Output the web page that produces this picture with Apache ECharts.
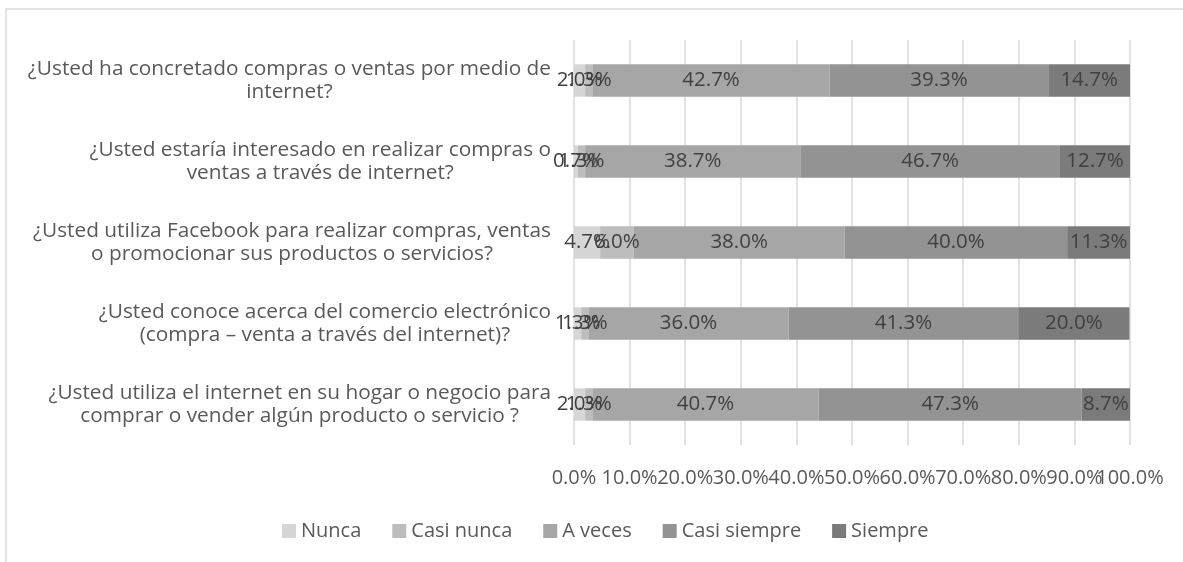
<!DOCTYPE html>
<html>
<head>
<meta charset="utf-8">
<script src="https://cdn.jsdelivr.net/npm/echarts@6/dist/echarts.min.js"></script>
<style>
  html, body { margin: 0; padding: 0; background: #fff; }
  #chart-container { width: 1183px; height: 562px; }
</style>
</head>
<body>
<div id="chart-container"></div>
<script>
// categories listed bottom to top (echarts category axis starts at the bottom)
const categories = [
    '¿Usted utiliza el internet en su hogar o negocio para\ncomprar o vender algún producto o servicio ?',
    '¿Usted conoce acerca del comercio electrónico\n(compra – venta a través del internet)?',
    '¿Usted utiliza Facebook para realizar compras, ventas\no promocionar sus productos o servicios?',
    '¿Usted estaría interesado en realizar compras o\nventas a través de internet?',
    '¿Usted ha concretado compras o ventas por medio de\ninternet?'
];

const seriesNames = ['Nunca', 'Casi nunca', 'A veces', 'Casi siempre', 'Siempre'];

const nunca = [2.0, 1.3, 4.7, 0.7, 2.0];
const casiNunca = [1.3, 1.3, 6.0, 1.3, 1.3];
const aVeces = [40.7, 36.0, 38.0, 38.7, 42.7];
const casiSiempre = [47.3, 41.3, 40.0, 46.7, 39.3];
const siempre = [8.7, 20.0, 11.3, 12.7, 14.7];

const colors = ['#d6d6d6', '#bdbdbd', '#a6a6a6', '#939393', '#7b7b7b'];
const FONT = 'Open Sans';

function makeSeries(name, data, i) {
    return {
        name: name,
        type: 'bar',
        stack: 'total',
        barWidth: '40%',
        data: data,
        itemStyle: {color: colors[i]},
        label: {
            show: true,
            position: 'inside',
            formatter: p => p.value.toFixed(1) + '%',
            color: '#404040',
            fontFamily: FONT,
            fontSize: 20.5
        }
    };
}

// the tick labels overlap each other like in the original; split them over two
// axes so echarts does not drop any of them
function tickLabel(show) {
    return {
        color: '#595959',
        fontFamily: FONT,
        fontSize: 20,
        margin: 23,
        showMinLabel: true,
        showMaxLabel: true,
        formatter: v => show(v) ? v.toFixed(1) + '%' : ''
    };
}

const chartDom = document.getElementById('chart-container');
const myChart = echarts.init(chartDom);

const option = {
    animation: false,
    graphic: [{
        type: 'rect',
        shape: {x: 6, y: 9, width: 1200, height: 600},
        style: {fill: 'none', stroke: '#d9d9d9', lineWidth: 1.5},
        silent: true
    }],
    grid: {left: 574, right: 53, top: 40, bottom: 117, containLabel: false},
    legend: {
        top: 516,
        left: 277,
        itemWidth: 14,
        itemHeight: 14,
        itemGap: 31,
        icon: 'rect',
        textStyle: {color: '#595959', fontFamily: FONT, fontSize: 20},
        data: seriesNames
    },
    xAxis: [{
        type: 'value',
        position: 'bottom',
        min: 0,
        max: 100,
        interval: 10,
        axisLine: {show: false},
        axisTick: {show: false},
        splitLine: {lineStyle: {color: '#d9d9d9', width: 1.5}},
        axisLabel: tickLabel(v => Math.round(v) % 20 === 10)
    }, {
        type: 'value',
        position: 'bottom',
        offset: 0,
        min: 0,
        max: 100,
        interval: 20,
        axisLine: {show: false},
        axisTick: {show: false},
        splitLine: {show: false},
        axisLabel: tickLabel(v => true)
    }],
    yAxis: {
        type: 'category',
        data: categories,
        axisLine: {show: false},
        axisTick: {show: false},
        axisLabel: {
            margin: 23,
            formatter: v => v.split('\n').map(l => '{c|' + l + '}').join('\n'),
            rich: {
                c: {align: 'center', color: '#595959', fontFamily: FONT, fontSize: 20.8, lineHeight: 23}
            }
        }
    },
    series: [
        makeSeries(seriesNames[0], nunca, 0),
        makeSeries(seriesNames[1], casiNunca, 1),
        makeSeries(seriesNames[2], aVeces, 2),
        makeSeries(seriesNames[3], casiSiempre, 3),
        makeSeries(seriesNames[4], siempre, 4)
    ]
};

myChart.setOption(option);
</script>
</body>
</html>
